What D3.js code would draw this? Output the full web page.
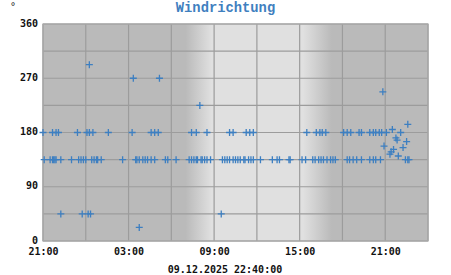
<!DOCTYPE html>
<html><head><meta charset="utf-8">
<script src="https://cdn.jsdelivr.net/npm/d3@7"></script>
<style>
html,body{margin:0;padding:0;background:#fff;}
svg{display:block;}
</style></head>
<body>
<svg id="chart" width="451" height="275"></svg>
<script>
// ---- data ----
const title = "Windrichtung";
const unitLabel = "°";
const stamp = "09.12.2025 22:40:00";
const xStart = "2025-12-08 21:00";
const xEnd = "2025-12-10 00:00";
const xTickLabels = ["2025-12-08 21:00", "2025-12-09 03:00", "2025-12-09 09:00", "2025-12-09 15:00", "2025-12-09 21:00"];
const yTicks = [0, 90, 180, 270, 360];
const yGrid = [0, 45, 90, 135, 180, 225, 270, 315, 360];
// daylight shading: dawn, sunrise, sunset, dusk
const daylight = ["2025-12-09 07:00", "2025-12-09 08:50", "2025-12-09 15:15", "2025-12-09 17:15"];

const times180 = ["08 21:00","08 21:40","08 21:55","08 22:05","08 23:25","09 00:05","09 00:15","09 00:30","09 01:35","09 03:15","09 04:35","09 04:50","09 05:05","09 07:25","09 07:45","09 08:30","09 10:05","09 10:20","09 11:15","09 11:30","09 11:45","09 15:30","09 16:10","09 16:25","09 16:35","09 16:50","09 18:05","09 18:20","09 18:35","09 19:10","09 19:20","09 19:55","09 20:10","09 20:20","09 20:35","09 20:45","09 21:05","09 22:05"];
const times135 = ["08 21:05","08 21:30","08 21:40","08 21:45","08 21:50","08 21:55","08 22:15","08 23:00","08 23:30","08 23:40","08 23:50","09 00:00","09 00:25","09 00:35","09 00:45","09 00:50","09 01:05","09 02:35","09 03:30","09 03:35","09 03:45","09 04:00","09 04:10","09 04:20","09 04:35","09 04:50","09 05:35","09 05:45","09 06:20","09 07:15","09 07:25","09 07:35","09 07:45","09 07:50","09 08:05","09 08:10","09 08:20","09 08:30","09 08:45","09 09:35","09 09:45","09 09:55","09 10:05","09 10:20","09 10:30","09 10:40","09 10:50","09 11:05","09 11:10","09 11:25","09 11:35","09 11:45","09 12:15","09 13:05","09 13:25","09 13:35","09 14:15","09 14:20","09 15:10","09 15:25","09 15:55","09 16:05","09 16:20","09 16:30","09 16:40","09 16:55","09 17:10","09 17:20","09 17:30","09 18:20","09 18:30","09 18:45","09 19:00","09 19:20","09 19:55","09 20:10","09 20:20","09 20:40","09 22:25","09 22:35","09 22:40"];
const otherTimes = ["08 22:15","08 23:45","09 00:10","09 00:20","09 09:30","09 03:45","09 00:15","09 03:20","09 05:10","09 08:00","09 20:50","09 20:55","09 21:20","09 21:25","09 21:30","09 21:35","09 21:45","09 21:50","09 21:55","09 22:15","09 22:30","09 22:35"];
const otherDirs  = [45, 45, 45, 45, 45, 22.5, 292.5, 270, 270, 225, 247.5, 157.5, 144, 148, 185, 152, 171, 167.5, 141, 155, 165, 193.5];

// ---- build ----
const parse = d3.timeParse("%Y-%m-%d %H:%M");
const p = s => parse("2025-12-" + s);
const points = [];
times180.forEach(t => points.push({t: p(t), v: 180}));
times135.forEach(t => points.push({t: p(t), v: 135}));
otherTimes.forEach((t, i) => points.push({t: p(t), v: otherDirs[i]}));

const W = 451, H = 275;
const m = {l: 43, r: 23, t: 24, b: 34};
const svg = d3.select("#chart");
const x = d3.scaleTime().domain([parse(xStart), parse(xEnd)]).range([m.l, W - m.r]);
const y = d3.scaleLinear().domain([0, 360]).range([H - m.b, m.t]);

const dark = "#bababa", light = "#e0e0e0";
const defs = svg.append("defs");
const grad = defs.append("linearGradient").attr("id", "sky")
  .attr("gradientUnits", "userSpaceOnUse")
  .attr("x1", m.l).attr("x2", W - m.r).attr("y1", 0).attr("y2", 0);
const span = (W - m.r) - m.l;
const off = t => ((x(parse(t)) - m.l) / span);
[[0, dark], [off(daylight[0]), dark], [off(daylight[1]), light], [off(daylight[2]), light], [off(daylight[3]), dark], [1, dark]]
  .forEach(([o, c]) => grad.append("stop").attr("offset", o).attr("stop-color", c));

svg.append("rect").attr("x", m.l).attr("y", m.t)
  .attr("width", span).attr("height", y(0) - y(360))
  .attr("fill", "url(#sky)");

// grid
const g = svg.append("g");
const xGrid = d3.timeHour.every(3).range(parse(xStart), d3.timeMinute.offset(parse(xEnd), 1));
g.selectAll("line.vx").data(xGrid).join("line")
  .attr("x1", d => x(d)).attr("x2", d => x(d))
  .attr("y1", y(0)).attr("y2", y(360))
  .attr("stroke", "#9c9c9c").attr("stroke-width", 1.2);
g.selectAll("line.hy").data(yGrid).join("line")
  .attr("y1", d => y(d)).attr("y2", d => y(d))
  .attr("x1", m.l).attr("x2", W - m.r)
  .attr("stroke", "#9c9c9c").attr("stroke-width", 1.2);
svg.append("rect").attr("x", m.l).attr("y", m.t)
  .attr("width", span).attr("height", y(0) - y(360))
  .attr("fill", "none").attr("stroke", "#a8a8a8").attr("stroke-width", 1.2);

// axes labels
const mono = "'DejaVu Sans Mono', monospace";
const yAxis = d3.axisLeft(y).tickValues(yTicks).tickSize(0).tickPadding(5).tickFormat(d3.format("d"));
const ya = svg.append("g").attr("transform", `translate(${m.l},0)`).call(yAxis);
ya.select(".domain").remove();
ya.selectAll("text").attr("dy", "0.2em").attr("font-family", mono).attr("font-weight", "bold").attr("font-size", 10).attr("fill", "#111");

const xAxis = d3.axisBottom(x).tickValues(xTickLabels.map(parse)).tickSize(0).tickPadding(6.5)
  .tickFormat(d3.timeFormat("%H:%M"));
const xa = svg.append("g").attr("transform", `translate(0,${y(0)})`).call(xAxis);
xa.select(".domain").remove();
xa.selectAll("text").attr("font-family", mono).attr("font-weight", "bold").attr("font-size", 10).attr("fill", "#111");

// title etc.
svg.append("text").attr("x", 225.5).attr("y", 12).attr("text-anchor", "middle")
  .attr("font-family", "'Liberation Mono', monospace").attr("font-weight", "bold")
  .attr("font-size", 13.8).attr("fill", "#3f80bf").text(title);
svg.append("text").attr("x", 10).attr("y", 10)
  .attr("font-family", mono).attr("font-size", 10).attr("fill", "#222").text(unitLabel);
svg.append("text").attr("x", 225).attr("y", 272.5).attr("text-anchor", "middle")
  .attr("font-family", mono).attr("font-weight", "bold").attr("font-size", 10).attr("fill", "#111").text(stamp);

// markers
const s = 3.5;
svg.append("g").selectAll("path").data(points).join("path")
  .attr("d", d => `M${x(d.t) - s},${y(d.v)}H${x(d.t) + s}M${x(d.t)},${y(d.v) - s}V${y(d.v) + s}`)
  .attr("stroke", "#3d7fc1").attr("stroke-width", 1.3).attr("fill", "none");
</script>
</body></html>
